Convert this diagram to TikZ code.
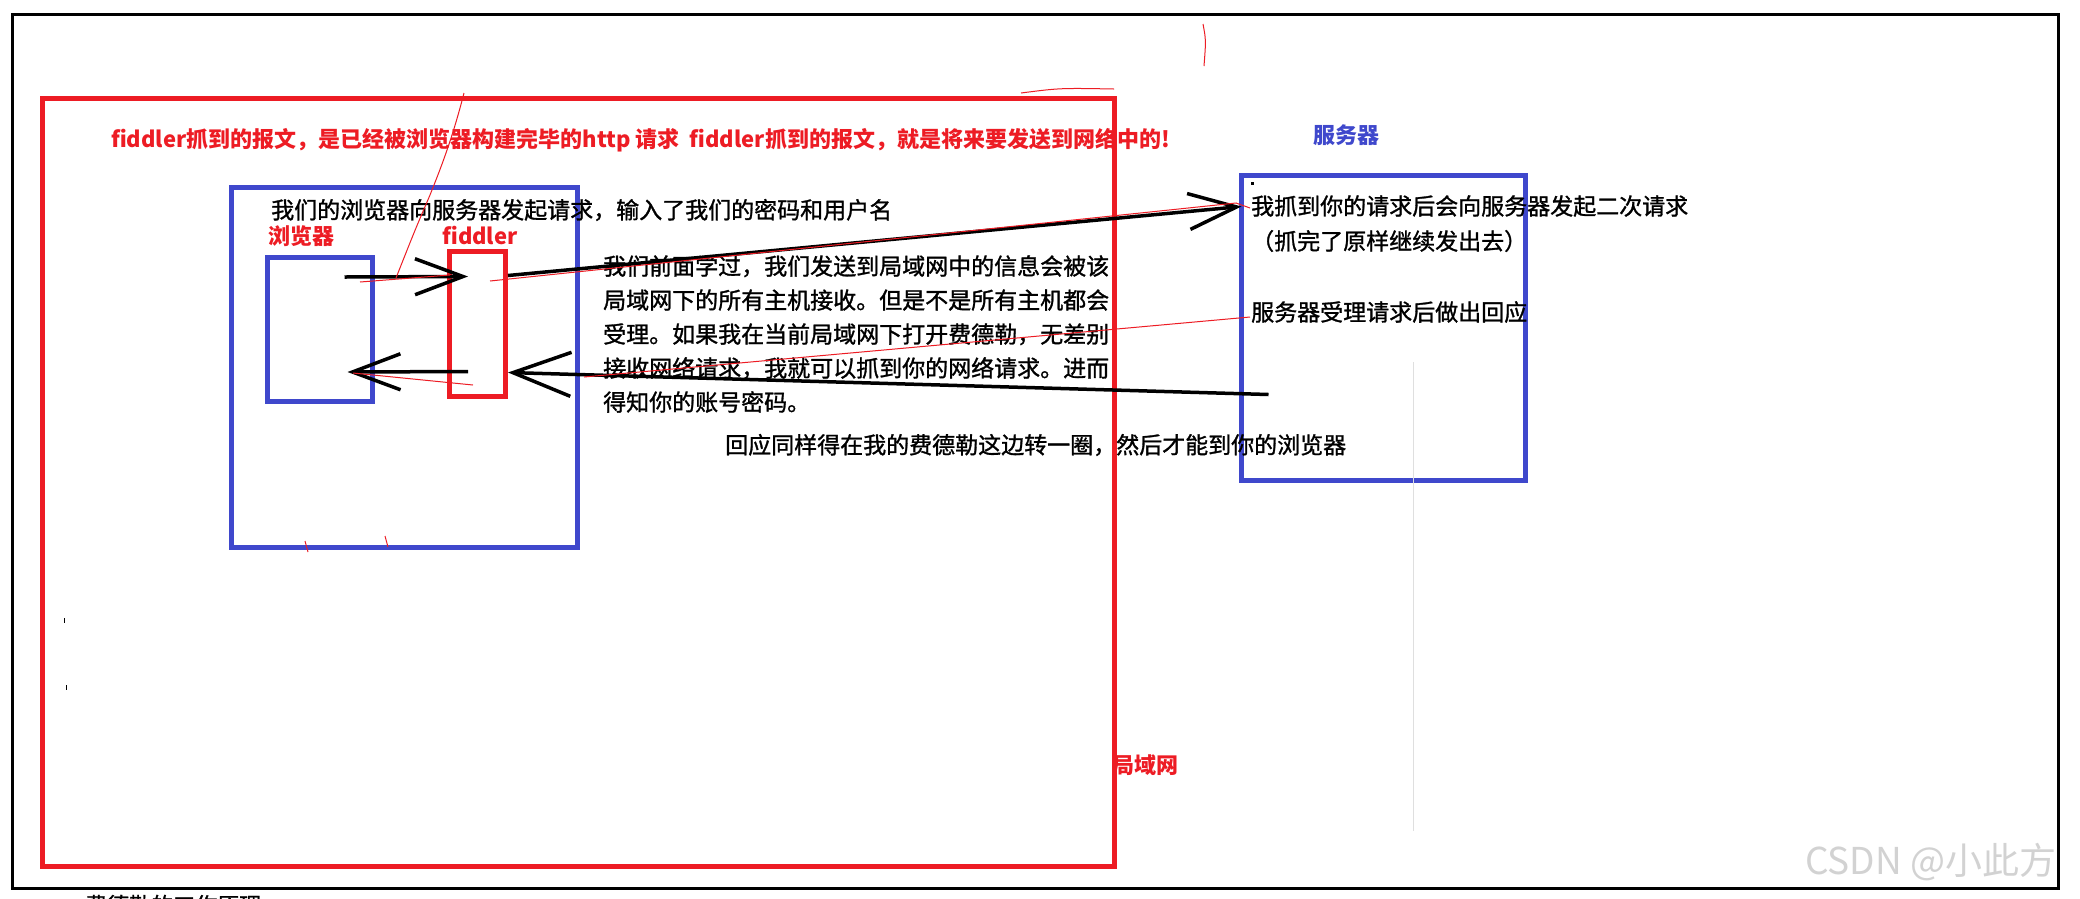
\documentclass[tikz,border=0pt]{standalone}
\usepackage{fontspec}
\setmainfont{Noto Sans CJK SC}
\newfontfamily\heavycjk[FakeBold=1.2]{Noto Sans CJK SC}
\usetikzlibrary{arrows.meta,calc}
\definecolor{lanred}{RGB}{237,28,36}
\definecolor{boxblue}{RGB}{63,72,204}
\begin{document}
\begin{tikzpicture}[x=1pt,y=-1pt,
  redlabel/.style={anchor=west,inner sep=0pt,text=lanred,font=\bfseries\fontsize{22}{26}\selectfont},
  bluelabel/.style={anchor=west,inner sep=0pt,text=boxblue,font=\bfseries\fontsize{22}{26}\selectfont},
  note/.style={anchor=west,inner sep=0pt,font=\heavycjk\fontsize{23}{34}\selectfont},
  redbox/.style={draw=lanred,line width=5pt},
  bluebox/.style={draw=boxblue,line width=5pt},
  penarrow/.style={line width=3.5pt,-{Straight Barb[length=48pt,width=36pt]}},
  scribble/.style={draw=lanred,line width=1pt}]
\useasboundingbox (0,0) rectangle (2080,898);
\fill[white] (0,0) rectangle (2080,898);

%Shape: Rectangle (outer frame)
\draw[line width=3pt] (12,14) rectangle (2058,888);
%Shape: Rectangle (LAN)
\draw[redbox] (42,98) rectangle (1114,866);
%Shape: Rectangle (host)
\draw[bluebox] (231,187) rectangle (577,547);
%Shape: Rectangle (browser)
\node[bluebox,minimum width=105pt,minimum height=144pt,inner sep=0pt] (browser) at (319.5,329) {};
%Shape: Rectangle (fiddler)
\node[redbox,minimum width=56pt,minimum height=145pt,inner sep=0pt] (fiddler) at (477,323.5) {};
%Shape: Rectangle (server)
\node[bluebox,minimum width=284pt,minimum height=305pt,inner sep=0pt] (server) at (1383,327.5) {};
\fill (1251,182) rectangle (1254,185);
% faint line
\draw[gray!25,line width=1pt] (1413,362) -- (1413,831);
\draw[line width=1pt] (64,618) -- (64,623) (66,685) -- (66,690);

% Text Node
\node[redlabel] (title) at (111,140) {fiddler抓到的报文，是已经被浏览器构建完毕的http 请求\ \ fiddler抓到的报文，就是将来要发送到网络中的!};
% Text Node
\node[note] (req) at (271,210) {我们的浏览器向服务器发起请求，输入了我们的密码和用户名};
% Text Node
\node[redlabel] (browserlabel) at (268,236) {浏览器};
\node[redlabel] (fiddlerlabel) at (442,236) {fiddler};
% Text Node
\node[note,align=left] (lan note) at (603,334) {我们前面学过，我们发送到局域网中的信息会被该\\局域网下的所有主机接收。但是不是所有主机都会\\受理。如果我在当前局域网下打开费德勒，无差别\\接收网络请求，我就可以抓到你的网络请求。进而\\得知你的账号密码。};
% Text Node
\node[note] (reply) at (725,445) {回应同样得在我的费德勒这边转一圈，然后才能到你的浏览器};
% Text Node
\node[bluelabel] (serverlabel) at (1313,135) {服务器};
\node[note] (resend) at (1251,206) {我抓到你的请求后会向服务器发起二次请求};
\node[note] (resend2) at (1251,241) {（抓完了原样继续发出去）};
\node[note] (answer) at (1251,312) {服务器受理请求后做出回应};
% Text Node
\node[redlabel] (lanlabel) at (1112,765) {局域网};
\node[note,font=\heavycjk\fontsize{22}{26}\selectfont] (cut) at (85,905) {费德勒的工作原理};
\node[anchor=west,inner sep=0pt,text=gray!35,font=\fontsize{37}{42}\selectfont] (mark) at (1805,862) {CSDN @小此方};

% arrows
\coordinate (b out) at ($(browser.center)+(25,-52)$);
\coordinate (b in) at ($(browser.center)+(28,43)$);
\coordinate (f in) at ($(fiddler.center)+(-9,-47)$);
\coordinate (f out) at ($(fiddler.center)+(-9,48)$);
\coordinate (f right) at ($(fiddler.center)+(31,-48)$);
\coordinate (f back) at ($(fiddler.center)+(31,49)$);
\coordinate (s in) at ($(server.west)+(3,-121)$);
\coordinate (s out) at ($(server.west)+(30,67)$);
\draw[penarrow] (b out) -- (f in);
\draw[penarrow] (f out) -- (b in);
\draw[penarrow] (f right) -- (s in);
\draw[penarrow,-{Straight Barb[length=58pt,width=44pt]}] (s out) -- (f back);

% red pen marks
\draw[scribble] (464,93) .. controls (452,140) and (440,170) .. (430,195) .. controls (415,230) .. (396,278);
\draw[scribble] (360,282) -- (450,275);
\draw[scribble] (490,281) -- (1236,203) -- (1250,208);
\draw[scribble] (584,377) -- (1250,317);
\draw[scribble] (353,373) -- (473,385);
\draw[scribble] (1203,24) .. controls (1206,40) .. (1204,66);
\draw[scribble] (1021,93) .. controls (1060,88) .. (1114,89);
\draw[scribble] (305,541) -- (308,552) (385,536) -- (388,547);
\end{tikzpicture}
\end{document}
